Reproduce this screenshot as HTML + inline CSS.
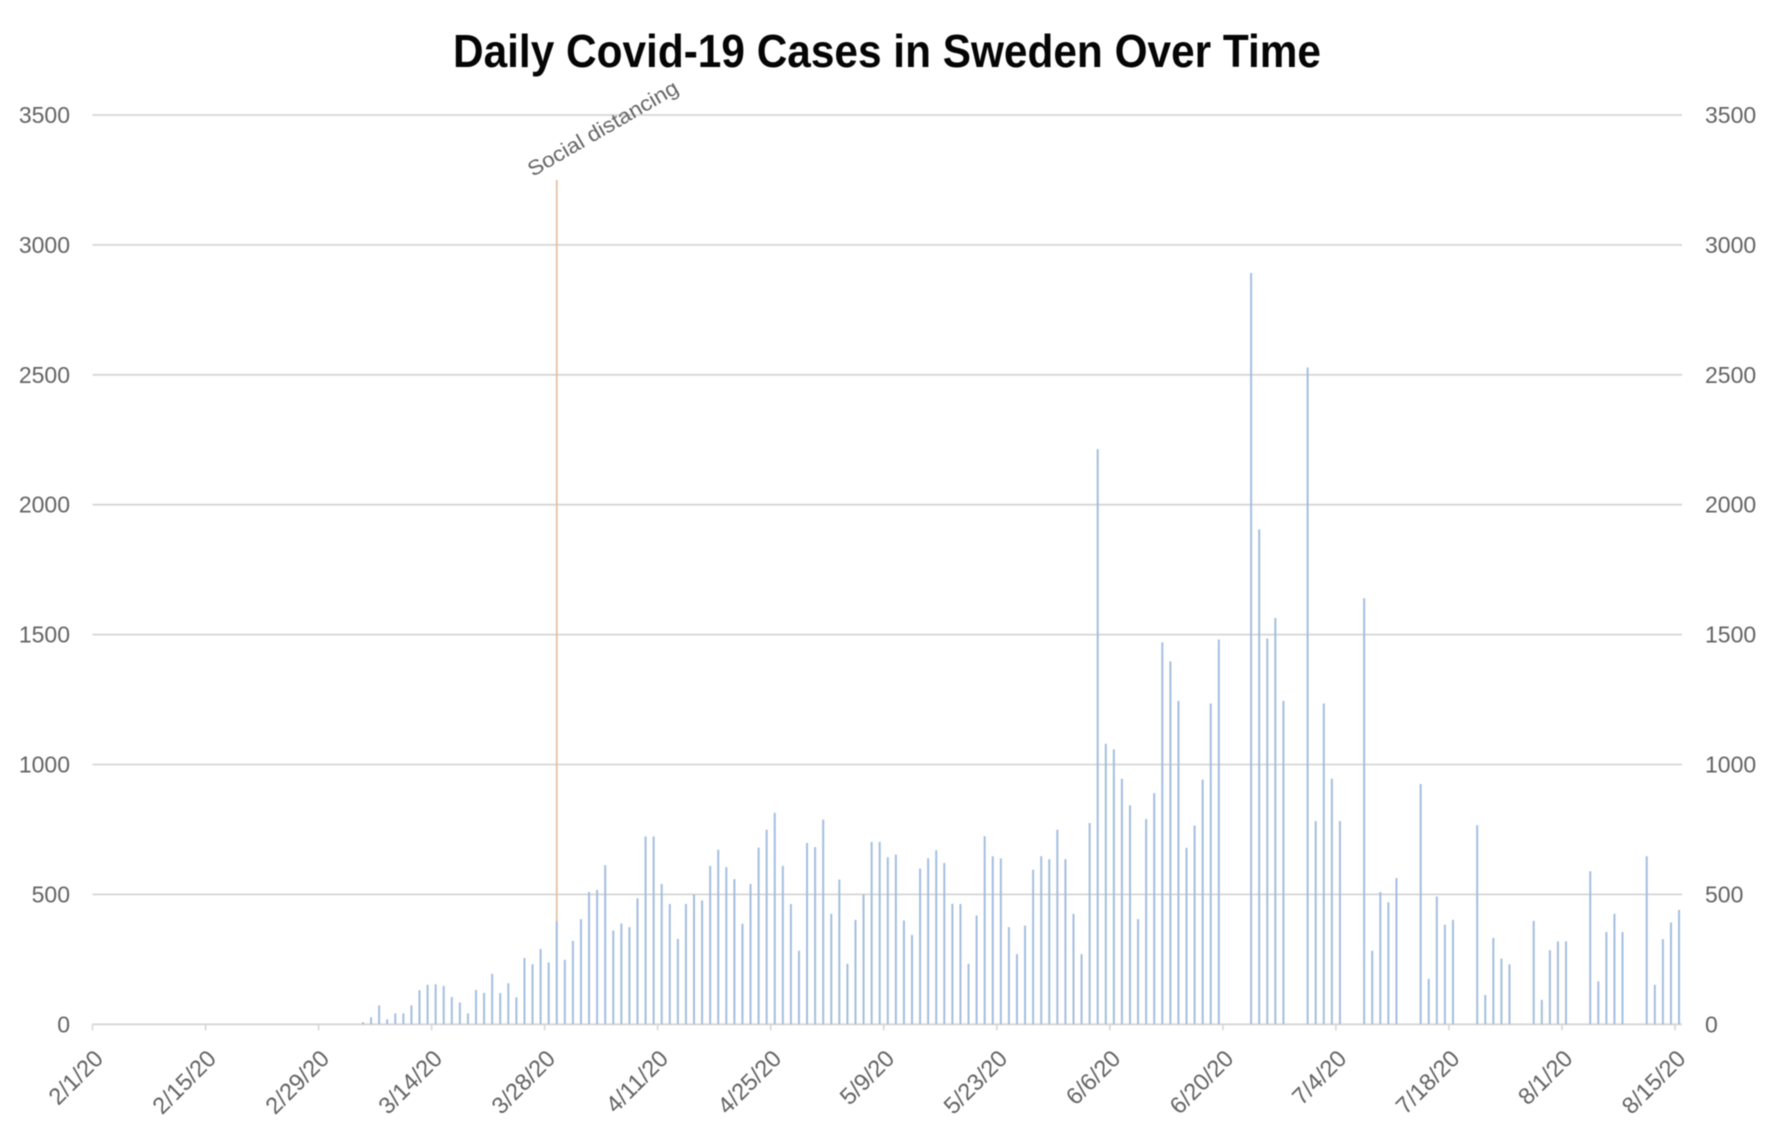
<!DOCTYPE html>
<html lang="en">
<head>
<meta charset="utf-8">
<title>Daily Covid-19 Cases in Sweden Over Time</title>
<style>
  html, body { margin: 0; padding: 0; background: #fff; }
  body { width: 1772px; height: 1130px; overflow: hidden; }
  svg { display: block; filter: blur(0.55px); }
  text { font-family: "Liberation Sans", sans-serif; }
</style>
</head>
<body>
<svg id="chart" xmlns="http://www.w3.org/2000/svg" width="1772" height="1130" viewBox="0 0 1772 1130">
  <rect x="0" y="0" width="1772" height="1130" fill="#ffffff"></rect>
  <text x="887" y="67" text-anchor="middle" font-size="46" font-weight="700" fill="#050505" textLength="868" lengthAdjust="spacingAndGlyphs">Daily Covid-19 Cases in Sweden Over Time</text>
  <g id="grid"></g>
  <g id="marker"></g>
  <g id="bars"></g>
  <g id="xaxis"></g>
  <g id="yleft"></g>
  <g id="yright"></g>
</svg>
<script>
const dailyCases = [
  0,0,0,0,0,0,0,0,0,0,
  0,0,0,0,0,0,0,0,0,0,
  0,0,0,0,0,0,0,0,0,0,
  0,0,0,8,27,73,19,42,42,73,
  131,152,154,148,105,84,42,132,121,194,
  120,158,104,255,231,290,238,395,248,321,
  405,509,517,612,361,388,374,485,723,723,
  540,463,329,463,500,477,610,672,605,559,
  387,540,680,749,814,610,463,283,698,682,
  788,425,557,233,402,500,702,702,643,653,
  400,344,599,639,670,621,464,463,233,419,
  724,647,638,374,270,380,595,647,636,749,
  636,425,270,775,2214,1080,1058,945,843,405,
  790,890,1470,1397,1245,679,765,942,1235,1481,
  0,0,0,2892,1905,1485,1564,1245,0,0,
  2528,782,1235,945,782,0,0,1640,283,509,
  470,563,0,0,925,175,492,383,402,0,
  0,766,113,332,253,231,0,0,398,94,
  285,319,319,0,0,589,165,355,425,355,
  0,0,647,152,328,392,440
];
const markerDays = [57];
const markerValues = [3250];
const markerLabels = ["Social distancing"];
const yTickValues = [0, 500, 1000, 1500, 2000, 2500, 3000, 3500];
const xTickLabels = ["2/1/20","2/15/20","2/29/20","3/14/20","3/28/20","4/11/20","4/25/20","5/9/20","5/23/20","6/6/20","6/20/20","7/4/20","7/18/20","8/1/20","8/15/20"];
const xTickDays = [0,14,28,42,56,70,84,98,112,126,140,154,168,182,196];

const NS = "http://www.w3.org/2000/svg";
const plotLeft = 92.5, plotRight = 1682, dayStep = 8.074;
const plotBottom = 1024.3, unitPx = 0.2598;
function xOfDay(d) { return plotLeft + d * dayStep; }
function xOfBar(d) { return xOfDay(d + 0.5); }
function yOfValue(v) { return plotBottom - v * unitPx; }
function make(tag, attrs, text) {
  const el = document.createElementNS(NS, tag);
  for (const k in attrs) el.setAttribute(k, attrs[k]);
  if (text !== undefined) el.textContent = text;
  return el;
}

const gGrid = document.getElementById("grid");
const gBars = document.getElementById("bars");
const gMarker = document.getElementById("marker");
const gX = document.getElementById("xaxis");
const gL = document.getElementById("yleft");
const gR = document.getElementById("yright");

yTickValues.forEach(function (v) {
  const line = make("line", { x1: plotLeft, x2: plotRight, y1: yOfValue(v), y2: yOfValue(v), stroke: "#d6d6d6", "stroke-width": 1.8 });
  
  
  gGrid.appendChild(line);
  const left = make("text", { x: 70, y: yOfValue(v) + 8, "text-anchor": "end", "font-size": 23, fill: "#636363" }, String(v));
  
  
  gL.appendChild(left);
  const right = make("text", { x: 1705, y: yOfValue(v) + 8, "text-anchor": "start", "font-size": 23, fill: "#636363" }, String(v));
  
  
  gR.appendChild(right);
});

markerDays.forEach(function (d, i) {
  const line = make("line", { x1: xOfBar(d), x2: xOfBar(d), y1: yOfValue(markerValues[i]), y2: plotBottom, stroke: "#e4bda3", "stroke-width": 1.7 });
  
  
  gMarker.appendChild(line);
  const px = xOfBar(d) - 24, py = yOfValue(markerValues[i]) - 3;
  const label = make("text", { transform: "translate(" + px + "," + py + ") rotate(-30)", "font-size": 21, fill: "#666666", textLength: 170, lengthAdjust: "spacingAndGlyphs" }, markerLabels[i]);
  
  
  gMarker.appendChild(label);
});

dailyCases.forEach(function (v, d) {
  if (!v) return;
  const bar = make("line", { x1: xOfBar(d), x2: xOfBar(d), y1: yOfValue(v), y2: plotBottom, stroke: "#a3bedf", "stroke-width": 2 });
  
  
  gBars.appendChild(bar);
});

xTickDays.forEach(function (d, i) {
  const x = xOfDay(d);
  const tick = make("line", { x1: x, x2: x, y1: plotBottom, y2: plotBottom + 6, stroke: "#d6d6d6", "stroke-width": 1.6 });
  
  
  gX.appendChild(tick);
  const label = make("text", { transform: "translate(" + (x + 12) + ",1060) rotate(-45)", "text-anchor": "end", "font-size": 23.5, fill: "#636363" }, xTickLabels[i]);
  
  
  gX.appendChild(label);
});
</script>
</body>
</html>
